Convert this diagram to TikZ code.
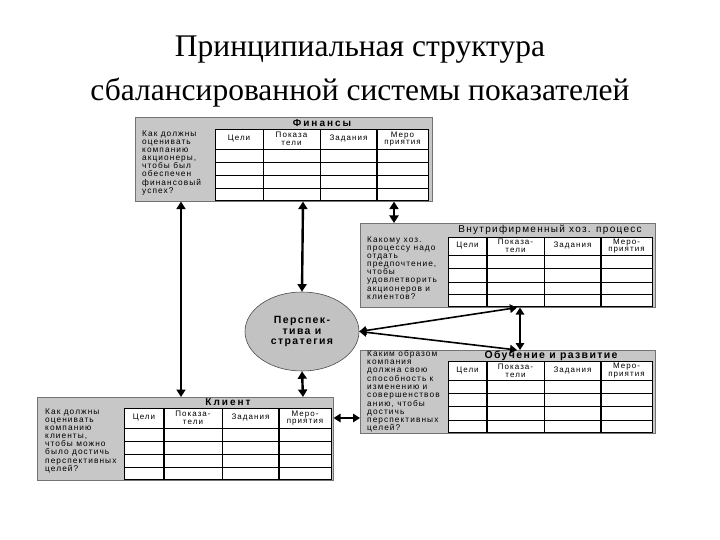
\documentclass[tikz,border=0pt]{standalone}
\usepackage{fontspec}
\setmainfont{Liberation Serif}
\newfontfamily\tabfont[LetterSpace=13]{Liberation Sans}
\newfontfamily\tabfontw[LetterSpace=20]{Liberation Sans}
\usetikzlibrary{arrows.meta,shapes.geometric}
\definecolor{boxgray}{gray}{0.78}
\definecolor{ellgray}{gray}{0.76}
\begin{document}
\begin{tikzpicture}[x=1pt,y=-1pt,
  graybox/.style={draw=black!55, line width=0.6pt, fill=boxgray, inner sep=0pt, anchor=north west},
  lefttext/.style={anchor=north west, inner sep=0pt, align=left, font=\tabfont\fontsize{8.3}{8.1}\selectfont},
  colhead/.style={inner sep=0pt, align=center, font=\tabfont\fontsize{8}{7.8}\selectfont},
  boxtitle/.style={inner sep=0pt, font=\tabfontw\bfseries\fontsize{10}{11}\selectfont},
  boxtitler/.style={inner sep=0pt, font=\tabfont\fontsize{10}{11}\selectfont},
  hline/.style={line width=0.7pt},
  vline/.style={line width=1pt},
  vthick/.style={line width=1.6pt},
  tframe/.style={line width=0.9pt},
  dbl/.style={{Triangle[length=7.5pt,width=9pt]}-{Triangle[length=7.5pt,width=9pt]}, line width=2.4pt},
  dblthin/.style={{Triangle[length=7pt,width=8.5pt]}-{Triangle[length=7pt,width=8.5pt]}, line width=1.6pt},
  titlefont/.style={inner sep=0pt, anchor=base, font=\fontsize{31.5}{33}\selectfont}
]
\useasboundingbox (0,0) rectangle (720,540);
\fill[white] (0,0) rectangle (720,540);

% Title
\node[titlefont] (t1) at (360,57) {Принципиальная структура};
\node[titlefont] (t2) at (360,101) {сбалансированной системы показателей};

% ===== Finance =====
\node[graybox, minimum width=297pt, minimum height=84pt] (fin) at (135,117) {};
\fill[white] (215,129) rectangle (428,200);
\foreach \y in {149,162,175.5,188} \draw[hline] (215,\y) -- (428,\y);
\foreach \x in {263,320} \draw[vline] (\x,129) -- (\x,200);
\draw[vthick] (377,129) -- (377,200);
\draw[tframe] (215,129) rectangle (428,200);
\node[boxtitle] (finT) at (322,123) {Финансы};
\node[colhead] (f1) at (239,139) {Цели};
\node[colhead] (f2) at (291.5,139) {Показа\\тели};
\node[colhead] (f3) at (348.5,139) {Задания};
\node[colhead] (f4) at (402.5,139) {Меро\\приятия};
\node[lefttext] (fL) at (142,130.5) {Как должны\\оценивать\\компанию\\акционеры,\\чтобы был\\обеспечен\\финансовый\\успех?};

% ===== Internal process =====
\node[graybox, minimum width=295pt, minimum height=84pt] (proc) at (360,223) {};
\fill[white] (448,237) rectangle (652,306);
\foreach \y in {255,268,282,294} \draw[hline] (448,\y) -- (652,\y);
\foreach \x in {544} \draw[vline] (\x,237) -- (\x,306);
\foreach \x in {487,601} \draw[vthick] (\x,237) -- (\x,306);
\draw[tframe] (448,237) rectangle (652,306);
\node[boxtitler] (procT) at (550,230) {Внутрифирменный хоз. процесс};
\node[colhead] (p1) at (467.5,246) {Цели};
\node[colhead] (p2) at (515.5,246) {Показа-\\тели};
\node[colhead] (p3) at (572.5,246) {Задания};
\node[colhead] (p4) at (626.5,246) {Меро-\\приятия};
\node[lefttext] (pL) at (367,236.5) {Какому хоз.\\процессу надо\\отдать\\предпочтение,\\чтобы\\удовлетворить\\акционеров и\\клиентов?};

% ===== Learning =====
\node[graybox, minimum width=295pt, minimum height=83pt] (learn) at (360,350) {};
\fill[white] (448,361) rectangle (652,432);
\foreach \y in {380,393,406,420} \draw[hline] (448,\y) -- (652,\y);
\foreach \x in {544} \draw[vline] (\x,361) -- (\x,432);
\foreach \x in {487,601} \draw[vthick] (\x,361) -- (\x,432);
\draw[tframe] (448,361) rectangle (652,432);
\node[boxtitle, font=\tabfont\bfseries\fontsize{10.5}{11}\selectfont] (learnT) at (551,355.5) {Обучение и развитие};
\node[colhead] (l1) at (467.5,370.5) {Цели};
\node[colhead] (l2) at (515.5,370.5) {Показа-\\тели};
\node[colhead] (l3) at (572.5,370.5) {Задания};
\node[colhead] (l4) at (626.5,370.5) {Меро-\\приятия};
\node[lefttext, font=\tabfont\fontsize{8.3}{8.3}\selectfont] (lL) at (367,350) {Каким образом\\компания\\должна свою\\способность к\\изменению и\\совершенствов\\анию, чтобы\\достичь\\перспективных\\целей?};

% ===== Client =====
\node[graybox, minimum width=296pt, minimum height=83pt] (client) at (37,397) {};
\fill[white] (124,408) rectangle (331,479);
\foreach \y in {428,441,454,467} \draw[hline] (124,\y) -- (331,\y);
\foreach \x in {222} \draw[vline] (\x,408) -- (\x,479);
\foreach \x in {164,279} \draw[vthick] (\x,408) -- (\x,479);
\draw[tframe] (124,408) rectangle (331,479);
\node[boxtitle] (clientT) at (228,402.5) {Клиент};
\node[colhead] (c1) at (144,418) {Цели};
\node[colhead] (c2) at (193,418) {Показа-\\тели};
\node[colhead] (c3) at (250.5,418) {Задания};
\node[colhead] (c4) at (305,418) {Меро-\\приятия};
\node[lefttext] (cL) at (45,408.5) {Как должны\\оценивать\\компанию\\клиенты,\\чтобы можно\\было достичь\\перспективных\\целей?};

% ===== Ellipse =====
\node[ellipse, draw=black!70, line width=0.6pt, fill=ellgray, minimum width=114pt, minimum height=79pt, inner sep=0pt, align=center, font=\tabfont\bfseries\fontsize{10.5}{10.8}\selectfont] (persp) at (302,331.5) {Перспек-\\тива и\\стратегия};

% ===== Connectors =====
\coordinate (xa) at (181,0);
\coordinate (xb) at (303,0);
\coordinate (xc) at (394,0);
\coordinate (xd) at (517,0);
\coordinate (xe) at (520,0);
\coordinate (ya) at (0,418);
\draw[dbl] (fin.south -| xa) -- (client.north -| xa);
\draw[dbl] (fin.south -| xb) -- (persp.north);
\draw[dbl] (fin.south -| xc) -- (proc.north -| xc);
\draw[dbl] (persp.south) -- (client.north -| xb);
\draw[dblthin] (persp.east) -- (proc.south -| xd);
\draw[dblthin] (persp.east) -- (learn.north -| xd);
\draw[dblthin] (proc.south -| xe) -- (learn.north -| xe);
\draw[dblthin] (client.east |- ya) -- (learn.west |- ya);
\end{tikzpicture}
\end{document}
